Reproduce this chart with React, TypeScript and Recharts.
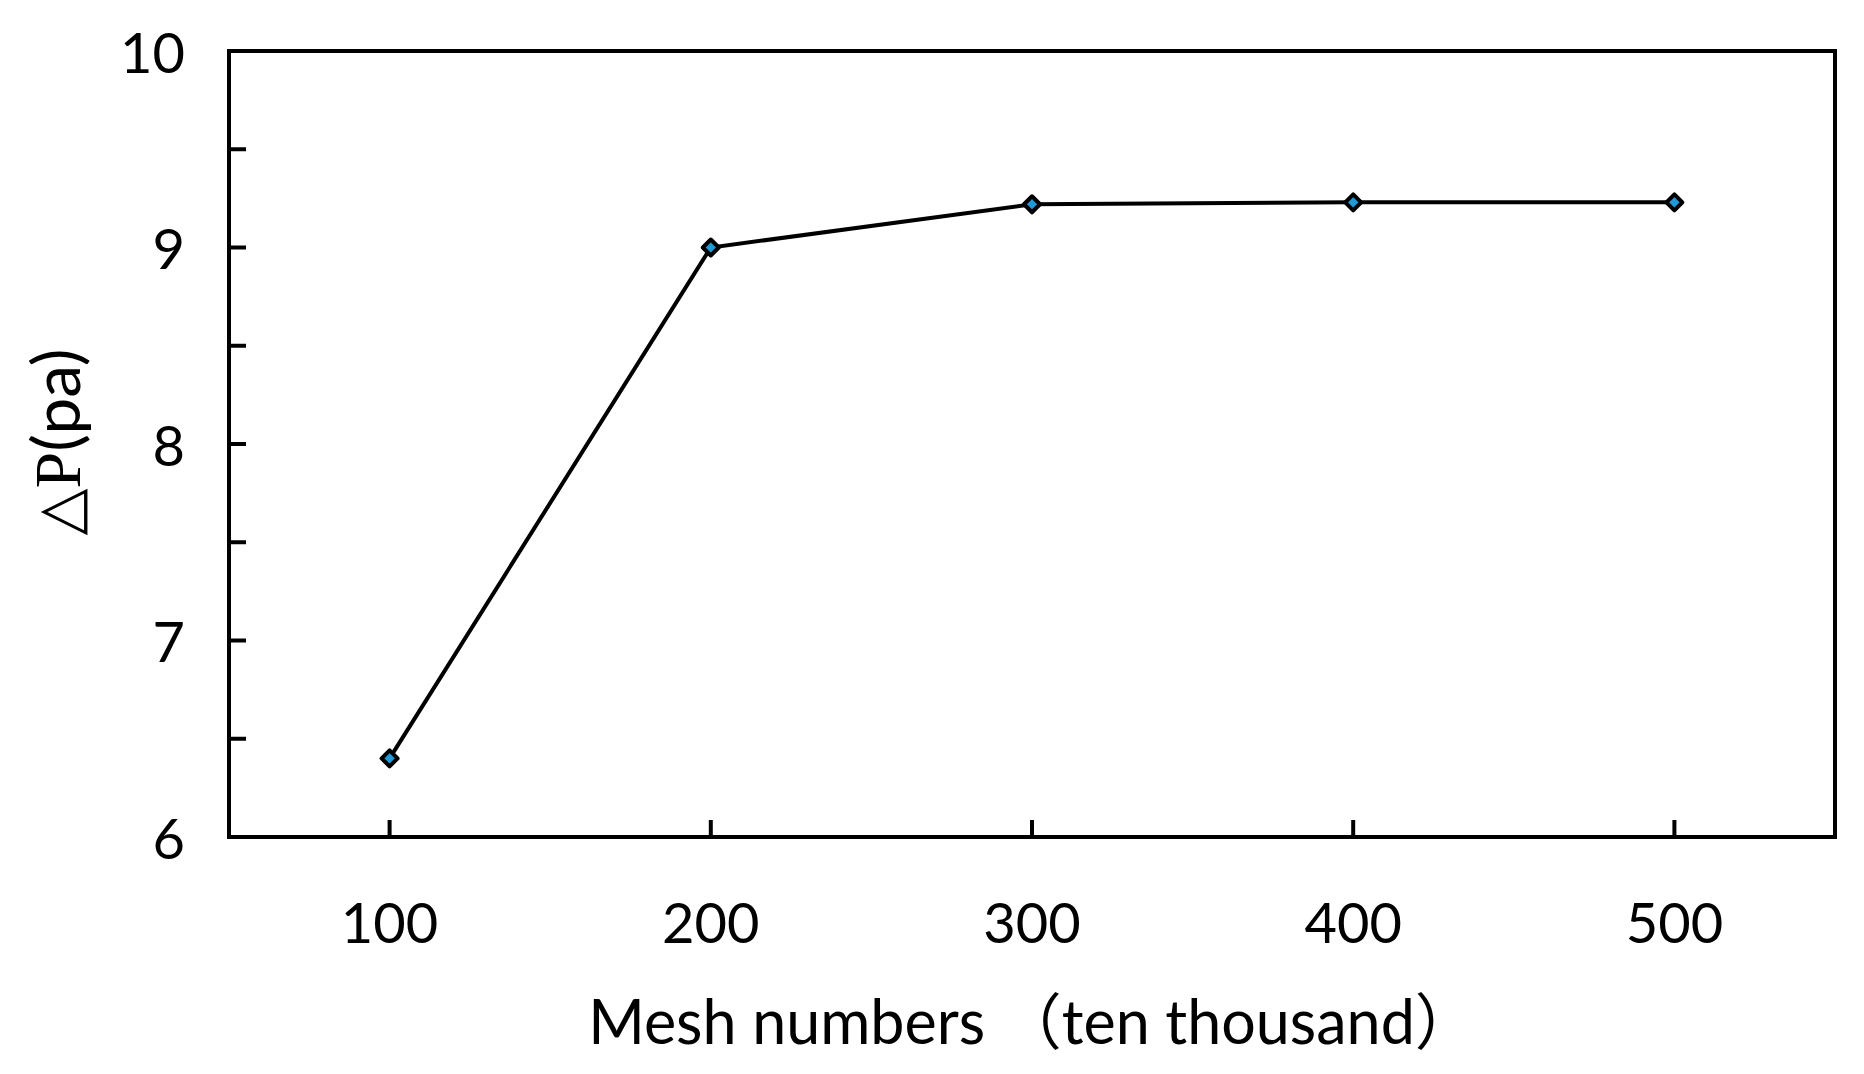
import { LineChart, Line, XAxis, YAxis, ReferenceArea } from 'recharts';

const meshNumbers = [100, 200, 300, 400, 500];
const pressureDrop = [6.4, 9.0, 9.22, 9.23, 9.23];
const xTicks = [100, 200, 300, 400, 500];
const yTicks = [6, 6.5, 7, 7.5, 8, 8.5, 9, 9.5, 10];

const data = meshNumbers.map((m, i) => ({ mesh: m, dp: pressureDrop[i] }));

const FONT = "Lato, 'Noto Sans CJK SC', sans-serif";

const YTick = ({ x, y, payload }: any) => {
  const v = payload.value;
  const major = Number.isInteger(v);
  return (
    <g>
      <line x1={x} y1={y} x2={x + 17} y2={y} stroke="#000" strokeWidth={4} />
      {major && (
        <text x={x - 44} y={y} textAnchor="end" dominantBaseline="central" fontFamily={FONT} fontSize={56} fill="#000">
          {v}
        </text>
      )}
    </g>
  );
};

const XTick = ({ x, y, payload }: any) => (
  <g>
    <line x1={x} y1={y} x2={x} y2={y - 17} stroke="#000" strokeWidth={4} />
    <text x={x} y={y + 84} textAnchor="middle" dominantBaseline="central" fontFamily={FONT} fontSize={56} fill="#000">
      {payload.value}
    </text>
  </g>
);

const Diamond = ({ cx, cy }: any) => {
  if (cx == null || cy == null) return null;
  const r = 8;
  return (
    <polygon
      points={`${cx},${cy - r} ${cx + r},${cy} ${cx},${cy + r} ${cx - r},${cy}`}
      fill="#1f9ad6"
      stroke="#000"
      strokeWidth={4}
      strokeLinejoin="round"
    />
  );
};

// rotated axis title, serif delta + P like the original
const YLabel = () => (
  <text x={0} y={0} transform="translate(80, 442) rotate(-90)" textAnchor="middle" fontSize={66} fill="#000">
    <tspan fontFamily="'DejaVu Serif', 'Liberation Serif', serif" fontSize={61}>△</tspan>
    <tspan fontFamily="'Liberation Serif', serif">P</tspan>
    <tspan fontFamily={FONT}>(pa)</tspan>
  </text>
);

const App = () => {
  return (
    <div style={{ position: 'absolute', left: 0, top: 0, width: 1864, height: 1074, background: '#fff' }}>
      <LineChart width={1864} height={1074} data={data} margin={{ top: 51, right: 29, left: 129, bottom: 0 }}>
        <XAxis
          dataKey="mesh"
          type="number"
          domain={[50, 550]}
          ticks={xTicks}
          height={237}
          tickSize={0}
          tickMargin={0}
          tickLine={false}
          axisLine={{ stroke: '#000', strokeWidth: 4 }}
          tick={<XTick />}
          interval={0}
          label={{
            value: 'Mesh numbers （ten thousand）',
            position: 'insideBottom',
            offset: 30,
            fill: '#000',
            fontSize: 61,
            fontFamily: FONT,
          }}
        />
        <YAxis
          type="number"
          domain={[6, 10]}
          ticks={yTicks}
          width={100}
          tickSize={0}
          tickMargin={0}
          tickLine={false}
          axisLine={{ stroke: '#000', strokeWidth: 4 }}
          tick={<YTick />}
          interval={0}
          label={<YLabel />}
        />
        <ReferenceArea
          x1={50}
          x2={550}
          y1={6}
          y2={10}
          fill="none"
          fillOpacity={0}
          stroke="#000"
          strokeWidth={4}
          ifOverflow="visible"
        />
        <Line
          dataKey="dp"
          stroke="#000"
          strokeWidth={4}
          dot={<Diamond />}
          activeDot={false}
          isAnimationActive={false}
        />
      </LineChart>
    </div>
  );
};

export default App;
